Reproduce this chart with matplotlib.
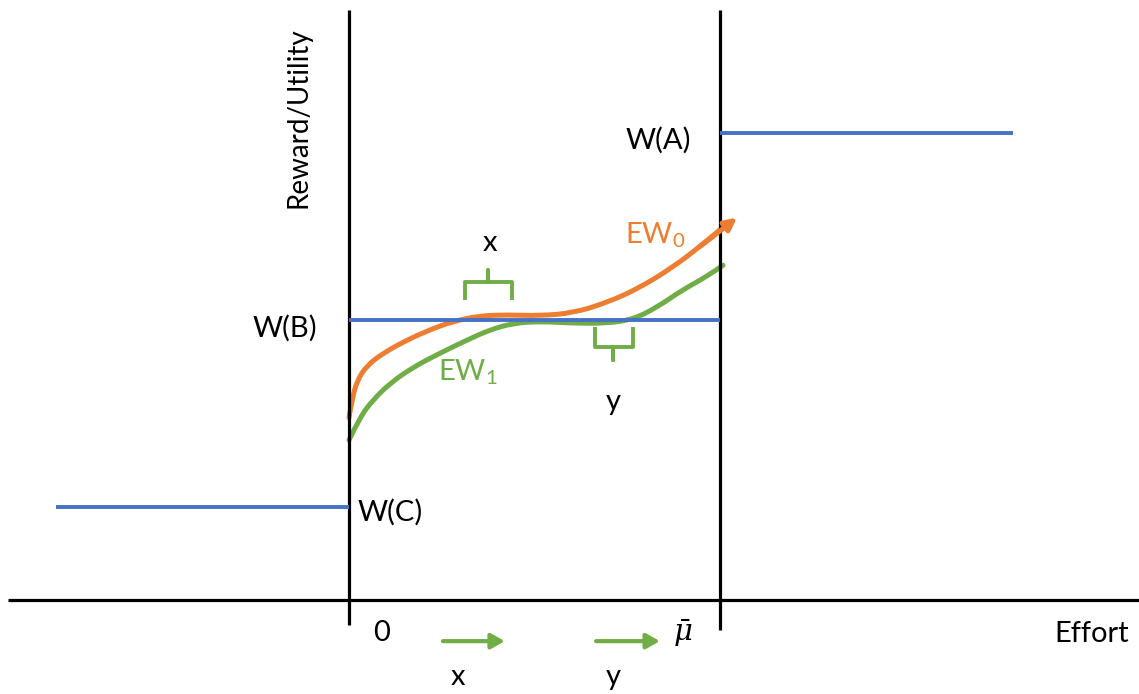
import matplotlib.pyplot as plt
import numpy as np
from matplotlib.path import Path
from matplotlib.patches import PathPatch

# diagram units: effort 0 -> mu_bar = 1, reward W(C)=1, W(B)=3, W(A)=5
w_levels = {'W(C)': 1.0, 'W(B)': 3.0, 'W(A)': 5.0}
w_spans = {'W(C)': (-0.79, 0.0), 'W(B)': (0.0, 1.0), 'W(A)': (1.0, 1.79)}

ew0_x = [0, 0.008, 0.022, 0.049, 0.092, 0.156, 0.218, 0.280, 0.353, 0.426,
         0.515, 0.604, 0.695, 0.784, 0.873, 0.946, 1.000, 1.046]
ew0_y = [1.95, 2.14, 2.35, 2.51, 2.64, 2.78, 2.89, 2.98, 3.04, 3.05,
         3.04, 3.07, 3.18, 3.34, 3.56, 3.78, 3.96, 4.09]

ew1_x = [0, 0.030, 0.065, 0.111, 0.173, 0.245, 0.318, 0.380, 0.442, 0.515,
         0.604, 0.695, 0.765, 0.830, 0.900, 0.965, 1.008]
ew1_y = [1.71, 1.96, 2.14, 2.32, 2.49, 2.64, 2.78, 2.89, 2.96, 2.98,
         2.96, 2.96, 3.00, 3.13, 3.32, 3.46, 3.58]

BLUE = '#4472C4'
ORANGE = '#ED7D31'
GREEN = '#70AD47'

plt.rcParams['font.family'] = ['Lato', 'DejaVu Sans']
plt.rcParams['mathtext.fontset'] = 'custom'
plt.rcParams['mathtext.rm'] = 'Lato'
plt.rcParams['mathtext.it'] = 'DejaVu Serif:italic'


def smooth_path(xs, ys):
    # quadratic bezier chain through the midpoints, read points as controls
    pts = np.column_stack([xs, ys])
    verts = [pts[0]]
    codes = [Path.MOVETO]
    for i in range(1, len(pts) - 1):
        mid = (pts[i] + pts[i + 1]) / 2 if i < len(pts) - 2 else pts[i + 1]
        verts += [pts[i], mid]
        codes += [Path.CURVE3, Path.CURVE3]
    return Path(verts, codes)


fig = plt.figure(figsize=(11.39, 6.94), dpi=100)
ax = fig.add_axes([0, 0, 1, 1])
ax.set_xlim(-349 / 371, (1139 - 349) / 371)
ax.set_ylim(-94 / 93.5, 600 / 93.5)
ax.axis('off')

# axes of the diagram
ax.plot([-0.92, 2.13], [0, 0], color='black', lw=2.3, solid_capstyle='butt')
ax.plot([0, 0], [-0.27, 6.31], color='black', lw=2.3, solid_capstyle='butt')
ax.plot([1, 1], [-0.32, 6.31], color='black', lw=2.3, solid_capstyle='butt')

# reward levels
for name, lvl in w_levels.items():
    x0, x1 = w_spans[name]
    ax.plot([x0, x1], [lvl, lvl], color=BLUE, lw=2.8, solid_capstyle='butt')

# expected reward curves
ax.add_patch(PathPatch(smooth_path(ew0_x[:-1], ew0_y[:-1]), fill=False,
                       edgecolor=ORANGE, lw=3.6, capstyle='round'))
ax.annotate('', xy=(ew0_x[-1], ew0_y[-1]), xytext=(ew0_x[-3], ew0_y[-3]),
            arrowprops=dict(arrowstyle='-|>,head_length=0.7,head_width=0.35',
                            color=ORANGE, lw=3.6, shrinkA=0, shrinkB=0))
ax.add_patch(PathPatch(smooth_path(ew1_x, ew1_y), fill=False,
                       edgecolor=GREEN, lw=3.6, capstyle='round'))

# braces
bx = [0.313, 0.313, 0.375, 0.375, 0.375, 0.439, 0.439]
by = [3.23, 3.40, 3.40, 3.53, 3.40, 3.40, 3.23]
ax.plot(bx, by, color=GREEN, lw=2.8, solid_joinstyle='round')
cx = [0.663, 0.663, 0.712, 0.712, 0.712, 0.765, 0.765]
cy = [2.90, 2.71, 2.71, 2.57, 2.71, 2.71, 2.90]
ax.plot(cx, cy, color=GREEN, lw=2.8, solid_joinstyle='round')

# green arrows under the effort axis
for xa, xb in [(0.253, 0.420), (0.666, 0.838)]:
    ax.annotate('', xy=(xb, -0.44), xytext=(xa, -0.44),
                arrowprops=dict(arrowstyle='-|>,head_length=0.8,head_width=0.45',
                                color=GREEN, lw=3.0, shrinkA=0, shrinkB=0))

fs = 21
ax.text(0.833, 4.92, 'W(A)', fontsize=fs, ha='center', va='center')
ax.text(-0.173, 2.91, 'W(B)', fontsize=fs, ha='center', va='center')
ax.text(0.111, 0.94, 'W(C)', fontsize=fs, ha='center', va='center')
ax.text(-0.137, 5.16, 'Reward/Utility', fontsize=20, ha='center', va='center',
        rotation=90)
ax.text(2.003, -0.36, 'Effort', fontsize=fs, ha='center', va='center')
ax.text(0.089, -0.35, '0', fontsize=fs, ha='center', va='center')
ax.text(0.900, -0.35, r'$\bar{\mu}$', fontsize=fs, ha='center', va='center')
ax.text(0.294, -0.82, 'x', fontsize=fs, ha='center', va='center')
ax.text(0.712, -0.82, 'y', fontsize=fs, ha='center', va='center')
ax.text(0.380, 3.82, 'x', fontsize=fs, ha='center', va='center')
ax.text(0.712, 2.12, 'y', fontsize=fs, ha='center', va='center')
ax.text(0.825, 3.90, r'EW$_0$', fontsize=fs, ha='center', va='center',
        color=ORANGE)
ax.text(0.321, 2.44, r'EW$_1$', fontsize=fs, ha='center', va='center',
        color=GREEN)

fig.savefig('out.png', dpi=100)
